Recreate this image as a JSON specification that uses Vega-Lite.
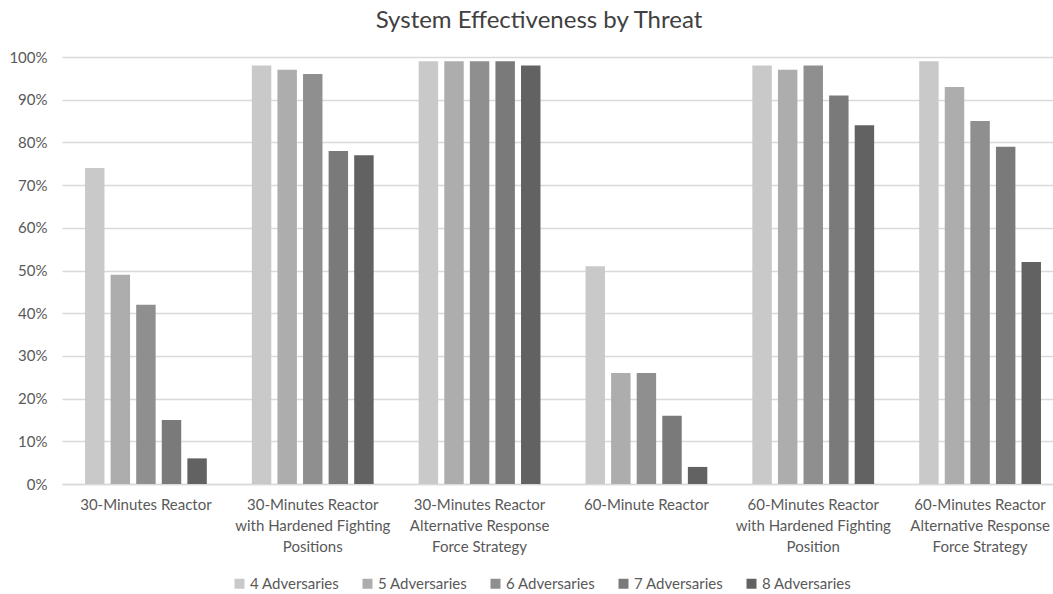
{
  "$schema": "https://vega.github.io/schema/vega-lite/v6.json",
  "autosize": {"type": "none"},
  "width": 988,
  "height": 427,
  "padding": {"left": 62, "top": 57, "right": 3, "bottom": 110},
  "background": "white",
  "config": {
    "font": "Lato",
    "view": {"stroke": null}
  },
  "title": {
    "text": "System Effectiveness by Threat",
    "fontSize": 24,
    "font": "Lato",
    "fontWeight": "normal",
    "color": "#404040",
    "anchor": "middle",
    "dx": -17,
    "offset": 17
  },
  "data": {
    "values": [
      {"threat": "30-Minutes Reactor", "series": "4 Adversaries", "value": 0.74},
      {"threat": "30-Minutes Reactor", "series": "5 Adversaries", "value": 0.49},
      {"threat": "30-Minutes Reactor", "series": "6 Adversaries", "value": 0.42},
      {"threat": "30-Minutes Reactor", "series": "7 Adversaries", "value": 0.15},
      {"threat": "30-Minutes Reactor", "series": "8 Adversaries", "value": 0.06},
      {"threat": "30-Minutes Reactor with Hardened Fighting Positions", "series": "4 Adversaries", "value": 0.98},
      {"threat": "30-Minutes Reactor with Hardened Fighting Positions", "series": "5 Adversaries", "value": 0.97},
      {"threat": "30-Minutes Reactor with Hardened Fighting Positions", "series": "6 Adversaries", "value": 0.96},
      {"threat": "30-Minutes Reactor with Hardened Fighting Positions", "series": "7 Adversaries", "value": 0.78},
      {"threat": "30-Minutes Reactor with Hardened Fighting Positions", "series": "8 Adversaries", "value": 0.77},
      {"threat": "30-Minutes Reactor Alternative Response Force Strategy", "series": "4 Adversaries", "value": 0.99},
      {"threat": "30-Minutes Reactor Alternative Response Force Strategy", "series": "5 Adversaries", "value": 0.99},
      {"threat": "30-Minutes Reactor Alternative Response Force Strategy", "series": "6 Adversaries", "value": 0.99},
      {"threat": "30-Minutes Reactor Alternative Response Force Strategy", "series": "7 Adversaries", "value": 0.99},
      {"threat": "30-Minutes Reactor Alternative Response Force Strategy", "series": "8 Adversaries", "value": 0.98},
      {"threat": "60-Minute Reactor", "series": "4 Adversaries", "value": 0.51},
      {"threat": "60-Minute Reactor", "series": "5 Adversaries", "value": 0.26},
      {"threat": "60-Minute Reactor", "series": "6 Adversaries", "value": 0.26},
      {"threat": "60-Minute Reactor", "series": "7 Adversaries", "value": 0.16},
      {"threat": "60-Minute Reactor", "series": "8 Adversaries", "value": 0.04},
      {"threat": "60-Minutes Reactor with Hardened Fighting Position", "series": "4 Adversaries", "value": 0.98},
      {"threat": "60-Minutes Reactor with Hardened Fighting Position", "series": "5 Adversaries", "value": 0.97},
      {"threat": "60-Minutes Reactor with Hardened Fighting Position", "series": "6 Adversaries", "value": 0.98},
      {"threat": "60-Minutes Reactor with Hardened Fighting Position", "series": "7 Adversaries", "value": 0.91},
      {"threat": "60-Minutes Reactor with Hardened Fighting Position", "series": "8 Adversaries", "value": 0.84},
      {"threat": "60-Minutes Reactor Alternative Response Force Strategy", "series": "4 Adversaries", "value": 0.99},
      {"threat": "60-Minutes Reactor Alternative Response Force Strategy", "series": "5 Adversaries", "value": 0.93},
      {"threat": "60-Minutes Reactor Alternative Response Force Strategy", "series": "6 Adversaries", "value": 0.85},
      {"threat": "60-Minutes Reactor Alternative Response Force Strategy", "series": "7 Adversaries", "value": 0.79},
      {"threat": "60-Minutes Reactor Alternative Response Force Strategy", "series": "8 Adversaries", "value": 0.52}
    ]
  },
  "mark": {"type": "bar"},
  "encoding": {
    "x": {
      "field": "threat",
      "type": "nominal",
      "sort": null,
      "title": null,
      "scale": {"paddingInner": 0.27, "paddingOuter": 0.138, "range": [0, 1002]},
      "axis": {
        "labelAngle": 0,
        "labelFontSize": 15,
        "labelColor": "#595959",
        "labelPadding": 13,
        "labelLineHeight": 21,
        "labelLimit": 220,
        "ticks": false,
        "domainColor": "#d9d9d9",
        "domainWidth": 1.5,
        "labelExpr": "split(replace(replace(replace(replace(datum.label, ' with ', '|with '), ' Alternative', '|Alternative'), 'Fighting ', 'Fighting|'), 'Response ', 'Response|'), '|')"
      }
    },
    "xOffset": {
      "field": "series",
      "type": "nominal",
      "scale": {"paddingInner": 0.24, "paddingOuter": 0}
    },
    "y": {
      "field": "value",
      "type": "quantitative",
      "title": null,
      "scale": {"domain": [0, 1], "nice": false},
      "axis": {
        "format": ".0%",
        "values": [0, 0.1, 0.2, 0.3, 0.4, 0.5, 0.6, 0.7, 0.8, 0.9, 1],
        "labelFontSize": 15,
        "labelColor": "#595959",
        "labelPadding": 15,
        "ticks": false,
        "domain": false,
        "gridColor": "#d9d9d9",
        "gridWidth": 1.5
      }
    },
    "color": {
      "field": "series",
      "type": "nominal",
      "title": null,
      "scale": {
        "domain": ["4 Adversaries", "5 Adversaries", "6 Adversaries", "7 Adversaries", "8 Adversaries"],
        "range": ["#c9c9c9", "#adadad", "#8f8f8f", "#7a7a7a", "#626262"]
      },
      "legend": {
        "orient": "none",
        "direction": "horizontal",
        "legendX": 170,
        "legendY": 519,
        "symbolType": "square",
        "symbolSize": 100,
        "symbolStrokeWidth": 0,
        "labelFontSize": 15,
        "labelColor": "#595959",
        "labelOffset": 3,
        "columnPadding": 20
      }
    }
  }
}
